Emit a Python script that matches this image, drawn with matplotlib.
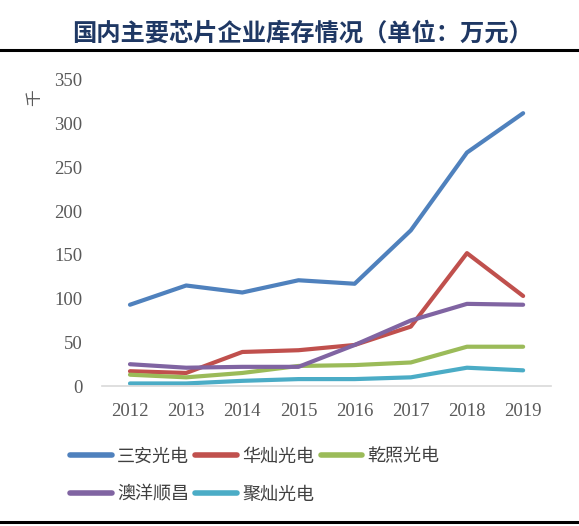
import matplotlib
matplotlib.use('Agg')
import matplotlib.pyplot as plt
from matplotlib.lines import Line2D

plt.rcParams['font.family'] = ['Noto Sans CJK SC', 'DejaVu Sans']

years = ['2012', '2013', '2014', '2015', '2016', '2017', '2018', '2019']
sanan = [93, 115, 107, 121, 117, 178, 267, 312]      # 三安光电
huacan = [17, 15, 39, 41, 47, 68, 152, 103]          # 华灿光电
qianzhao = [13, 10, 15, 23, 24, 27, 45, 45]          # 乾照光电
aoyang = [25, 21, 22, 22, 47, 75, 94, 93]            # 澳洋顺昌
jucan = [3, 3, 6, 8, 8, 10, 21, 18]                  # 聚灿光电
y_ticks = [0, 50, 100, 150, 200, 250, 300, 350]

fig = plt.figure(figsize=(5.79, 5.26), dpi=100)
ax = fig.add_axes([0.176, 0.266, 0.776, 0.582])

x = range(len(years))
lw = 3
l1, = ax.plot(x, sanan, color='#4F81BD', lw=lw, solid_capstyle='round', label='三安光电')
l2, = ax.plot(x, huacan, color='#C0504D', lw=lw, solid_capstyle='round', label='华灿光电')
l3, = ax.plot(x, qianzhao, color='#9BBB59', lw=lw, solid_capstyle='round', label='乾照光电')
l4, = ax.plot(x, aoyang, color='#8064A2', lw=lw, solid_capstyle='round', label='澳洋顺昌')
l5, = ax.plot(x, jucan, color='#4BACC6', lw=lw, solid_capstyle='round', label='聚灿光电')

ax.set_xlim(-0.5, len(years) - 0.5)
ax.set_ylim(0, 350)
ax.set_xticks(list(x))
ax.set_xticklabels(years, family='Liberation Serif', fontsize=13.5, color='#595959')
ax.set_yticks(y_ticks)
ax.set_yticklabels([str(v) for v in y_ticks], family='Liberation Serif', fontsize=13.5, color='#595959')
ax.tick_params(axis='x', length=0, pad=12)
ax.tick_params(axis='y', length=0, pad=14)
for s in ['top', 'right', 'left']:
    ax.spines[s].set_visible(False)
ax.spines['bottom'].set_color('#D9D9D9')
ax.spines['bottom'].set_linewidth(1.2)

fig.text(0.06, 0.815, '千', rotation=90, fontsize=12, color='#595959', ha='center', va='center')

# legend: row-wise order (matplotlib fills columns first)
order = [l1, l4, l2, l5, l3]
leg = fig.legend(order, [h.get_label() for h in order], ncol=3, loc='upper left',
                 bbox_to_anchor=(0.093, 0.18), frameon=False, fontsize=13,
                 handlelength=2.3, handletextpad=0.3, columnspacing=0.35, labelspacing=1.1,
                 labelcolor='#404040')
for h in leg.legend_handles:
    h.set_linewidth(4)
    h.set_solid_capstyle('round')

fig.text(0.522, 0.937, '国内主要芯片企业库存情况（单位：万元）', ha='center', va='center',
         fontsize=17.5, fontweight='bold', color='#1F3864')
fig.add_artist(Line2D([0, 1], [0.905, 0.905], color='black', lw=2.2, transform=fig.transFigure))
fig.add_artist(Line2D([0, 1], [0.007, 0.007], color='black', lw=2.2, transform=fig.transFigure))

fig.savefig('out.png', dpi=100)
